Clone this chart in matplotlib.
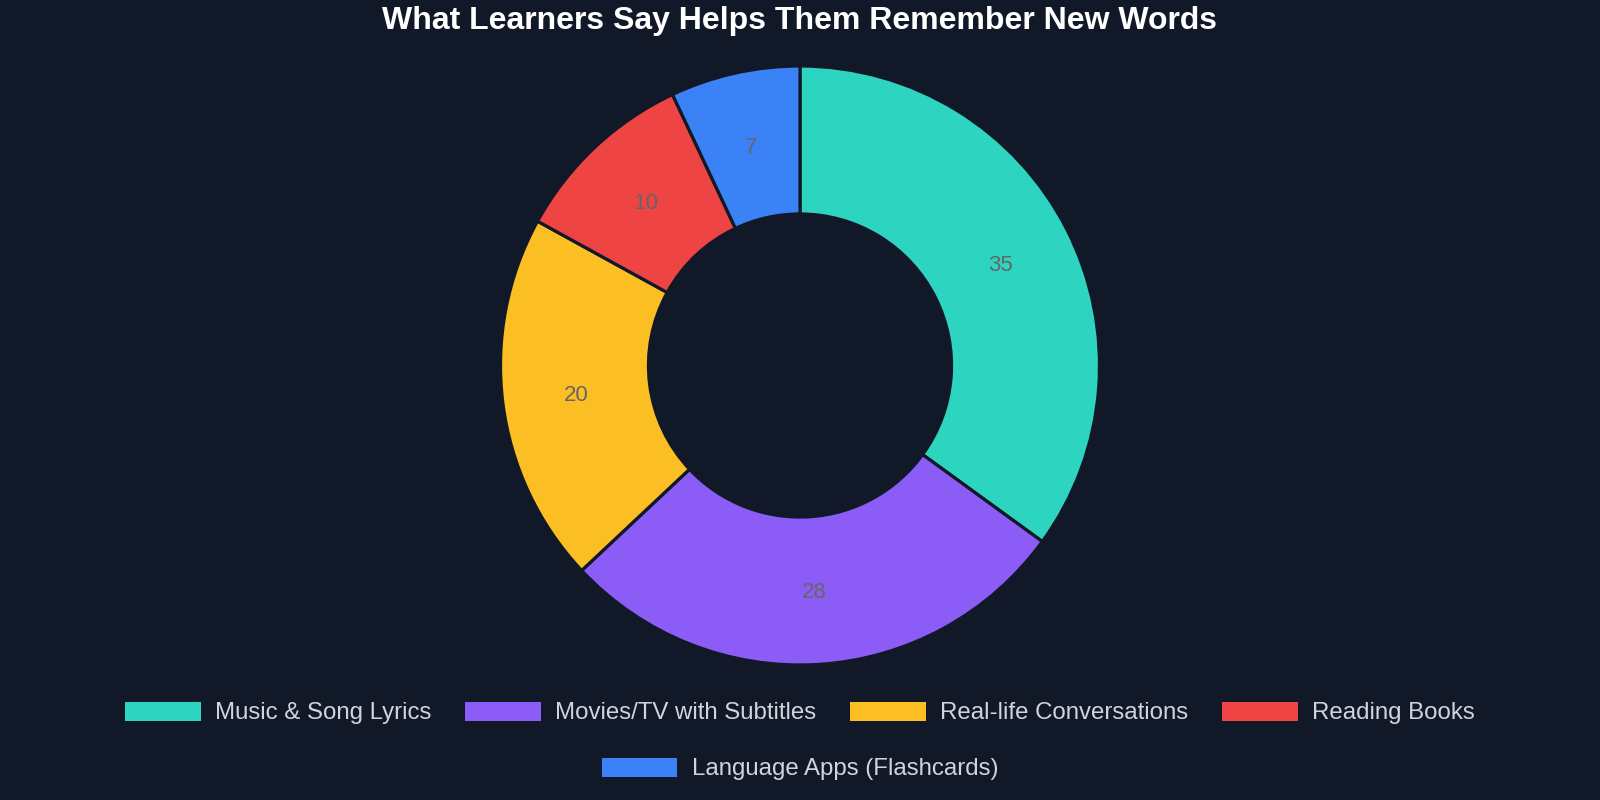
import matplotlib
matplotlib.use("Agg")
import matplotlib.pyplot as plt
from matplotlib.patches import Patch

categories = ["Music & Song Lyrics", "Movies/TV with Subtitles", "Real-life Conversations",
              "Reading Books", "Language Apps (Flashcards)"]
values = [35, 28, 20, 10, 7]
colors = ["#2dd4bf", "#8b5cf6", "#fbbf24", "#ef4444", "#3b82f6"]
title = "What Learners Say Helps Them Remember New Words"

bg = "#111827"
plt.rcParams['font.family'] = ['Liberation Sans', 'DejaVu Sans']

fig = plt.figure(figsize=(16, 8), dpi=100, facecolor=bg)
W, H = 1600, 800
R = 299.5
cx, cy = 800, 365.5
ax = fig.add_axes([(cx - R) / W, (H - cy - R) / H, 2 * R / W, 2 * R / H])
ax.set_facecolor(bg)
ring = 0.494
wedges, texts, autotexts = ax.pie(
    values, colors=colors, startangle=90, counterclock=False, radius=1,
    wedgeprops=dict(width=ring, edgecolor=bg, linewidth=2.3),
    autopct=lambda p: f"{round(p * sum(values) / 100)}", pctdistance=1 - ring / 2,
    textprops=dict(color="#666666", fontsize=16))
for t in autotexts:
    x, y = t.get_position()
    t.set_position((x, y - 0.007))
ax.set_xlim(-1, 1)
ax.set_ylim(-1, 1)
ax.set_aspect('equal')
ax.axis('off')

fig.text(0.5, 1 - 21.5 / H, title, ha='center', va='center', fontsize=23,
         fontweight='bold', color='white')

handles = [Patch(facecolor=c, edgecolor='none') for c in colors]
leg_kw = dict(frameon=False, fontsize=17.3, labelcolor='#d1d5db', handlelength=3.15,
              handleheight=0.84, handletextpad=0.6, columnspacing=1.4, borderpad=0,
              borderaxespad=0)
fig.legend(handles[:4], categories[:4], ncol=4, loc='center',
           bbox_to_anchor=(0.5, 1 - 713 / H), **leg_kw)
fig.legend(handles[4:], categories[4:], ncol=1, loc='center',
           bbox_to_anchor=(0.5, 1 - 769 / H), **leg_kw)

fig.savefig("out.png", dpi=100, facecolor=bg)
